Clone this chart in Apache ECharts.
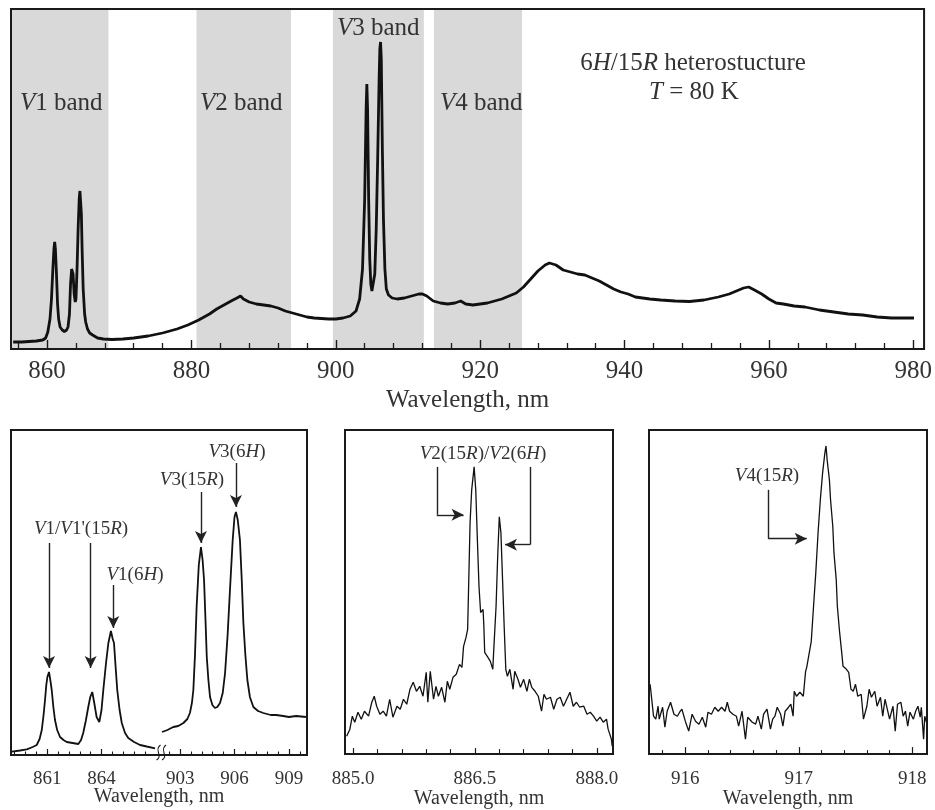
<!DOCTYPE html>
<html><head><meta charset="utf-8">
<script src="https://cdn.jsdelivr.net/npm/echarts@6/dist/echarts.min.js"></script>
<style>html,body{margin:0;padding:0;background:#fff}#c{width:935px;height:810px}</style>
</head><body><div id="c"></div>
<script>
const FONT = 'Liberation Serif';

// ---- Top panel: full spectrum ----
const topWl = [855.3,856.5,857.5,858.5,859.4,859.8,860.1,860.4,860.6,860.8,860.95,861.05,861.15,861.3,861.45,861.6,861.8,862.1,862.4,862.7,862.9,863.1,863.25,863.4,863.5,863.6,863.75,863.9,864.0,864.15,864.3,864.45,864.55,864.65,864.75,864.85,865.0,865.2,865.35,865.6,865.9,866.3,867.0,867.8,869,870.5,872,874,876,878,879.5,881,882.5,883.5,884.5,885.5,886.3,886.8,887.2,888,889,890,891,892,893,894,895,896,897,898,899,900,901,902,902.8,903.3,903.7,904.0,904.2,904.3,904.4,904.55,904.7,904.85,905.0,905.2,905.4,905.6,905.8,906.0,906.1,906.2,906.3,906.45,906.6,906.8,907.0,907.3,907.8,908.5,909.5,910.5,911.5,912,912.6,913.5,914.5,915.5,916.5,917.3,918,919,920,921,922,923,924,925,926,927,928,929,929.6,930.5,931.5,932.5,933.5,934.5,935.5,936.5,937.5,938.5,939.5,940.5,941.5,942.5,943.5,945,947,949,951,953,954.5,955.5,956.5,957.2,958,959,960,961,962,963.5,965,967,969,971,973,975,977,978.5,980.1];
const topInt = [7,7,7.5,8,9,11,17,30,49,80,100,107,100,75,45,30,22,19,17.5,19,22,35,65,80,82,75,55,47,50,80,120,150,158,157,135,100,60,35,27,20,16,14,11,10,9.5,10,11,13,16,20,24,29,35,40,44,48,51,53,50,47,45,44,43,41,38,36,34,32,31,30.5,30,30,31,33,38,50,80,150,240,265,240,150,90,65,58,57,75,120,190,270,300,307,290,200,130,80,60,54,51,50,51,53,55,55,53,48,46,45,46,48,45,44,45,46,48,50,53,56,62,70,78,84,86,84,79,77,75,74,71,68,64,60,57,55,52,51,50,49,48,47.5,49,52,55,58,61,62,59,55,50,46,45,43,42,39,37,35,34,32,31,31,31];
const bandRanges = [[855,868.5],[880.7,893.8],[899.6,912.2],[913.6,925.8]];
const topMajorTicks = [860,880,900,920,940,960,980];
const topMinorTicks = [856,864,868,872,876,884,888,892,896,904,908,912,916,924,928,932,936,944,948,952,956,964,968,972,976];

// ---- Bottom-left panel (broken axis) ----
const v1Wl = [859.04,859.5,859.87,860.2,860.42,860.58,860.70,860.80,860.88,860.95,861.01,861.10,861.18,861.25,861.34,861.43,861.55,861.71,861.9,862.08,862.4,862.72,862.87,862.99,863.13,863.27,863.38,863.49,863.6,863.73,863.88,864.0,864.10,864.25,864.38,864.52,864.62,864.69,864.78,864.87,865.0,865.12,865.3,865.48,865.8,866.13,866.5,866.96];
const v1Int = [3.3,4.5,5.7,8,10,16,25,40,55,70,78,83,74,65,48,35,25,18,15,13,12,11,15,22,34,48,58,63,52,38,33,45,65,92,112,124,116,112,88,65,45,32,22,17,13,10,8.5,6.7];
const v3Wl = [902.0,902.3,902.62,902.9,903.18,903.4,903.54,903.65,903.73,903.82,903.91,904.03,904.15,904.24,904.32,904.4,904.47,904.56,904.65,904.78,904.92,905.05,905.2,905.35,905.48,905.62,905.75,905.9,906.0,906.08,906.18,906.3,906.4,906.49,906.6,906.71,906.85,907.04,907.3,907.59,908.0,908.3,908.69,909.0,909.4,909.94];
const v3Int = [23,25,28,29,32,36,42,52,65,100,148,190,208,195,175,135,98,75,58,50,47,48,52,62,82,120,165,215,238,243,235,215,175,132,100,75,58,48,44,42,40,40,39,38,39,38];
const v1MajorTicks = [861,864];
const v1MinorTicks = [859.2,859.8,860.4,861.6,862.2,862.8,863.4,864.6,865.2,865.8,866.4];
const v3MajorTicks = [903,906,909];
const v3MinorTicks = [902.4,903.6,904.2,904.8,905.4,906.6,907.2,907.8,908.4,909.6];

// ---- Bottom-middle panel (V2) ----
const v2Wl = [884.92,884.96,884.99,885.02,885.06,885.10,885.14,885.19,885.23,885.26,885.29,885.33,885.37,885.41,885.45,885.49,885.54,885.58,885.62,885.66,885.70,885.74,885.78,885.82,885.86,885.90,885.92,885.95,885.99,886.02,886.05,886.09,886.13,886.16,886.19,886.23,886.27,886.31,886.34,886.36,886.39,886.41,886.42,886.44,886.46,886.49,886.51,886.53,886.55,886.57,886.60,886.61,886.62,886.66,886.69,886.72,886.73,886.76,886.78,886.80,886.82,886.84,886.86,886.88,886.90,886.93,886.97,886.99,887.03,887.06,887.10,887.14,887.17,887.20,887.24,887.28,887.32,887.35,887.38,887.43,887.47,887.51,887.55,887.59,887.63,887.67,887.71,887.75,887.79,887.84,887.88,887.92,887.96,888.00,888.04,888.08,888.12,888.14,888.18,888.19];
const v2Int = [18,25,38,32,42,35,43,38,52,58,48,40,43,38,55,37,48,45,55,50,65,72,63,68,58,82,52,83,55,68,58,67,52,73,65,77,80,90,87,108,117,125,160,232,265,288,265,215,168,142,145,128,102,97,93,85,102,148,198,238,222,175,128,85,78,85,65,83,75,67,75,63,75,67,63,58,43,60,55,57,45,55,57,48,55,62,48,52,47,48,40,42,38,33,37,32,35,25,15,8];
const v2MajorTicks = [885.0,886.5,888.0];
const v2MinorTicks = [885.3,885.6,885.9,886.2,886.8,887.1,887.4,887.7];

// ---- Bottom-right panel (V4) ----
const v4Wl = [915.69,915.72,915.74,915.76,915.77,915.80,915.82,915.84,915.87,915.90,915.93,915.95,915.97,916.00,916.03,916.06,916.09,916.12,916.15,916.18,916.20,916.23,916.26,916.29,916.32,916.35,916.37,916.39,916.42,916.45,916.47,916.50,916.53,916.55,916.59,916.62,916.64,916.67,916.69,916.72,916.75,916.77,916.79,916.81,916.84,916.86,916.88,916.91,916.93,916.95,916.96,916.98,917.01,917.04,917.06,917.07,917.09,917.11,917.13,917.15,917.17,917.19,917.21,917.23,917.24,917.25,917.27,917.28,917.30,917.31,917.33,917.34,917.36,917.38,917.39,917.42,917.44,917.46,917.48,917.50,917.52,917.55,917.57,917.60,917.62,917.64,917.67,917.69,917.72,917.74,917.76,917.78,917.80,917.83,917.85,917.87,917.90,917.92,917.94,917.96,917.98,918.01,918.03,918.05,918.07,918.08,918.10,918.11,918.13];
const v4Int = [70,38,35,48,35,47,27,43,52,40,38,42,45,33,23,40,33,30,37,27,42,40,47,43,47,43,52,43,40,38,28,43,15,37,32,30,38,25,40,45,25,35,38,47,40,28,43,47,50,38,63,58,62,58,83,87,100,113,148,182,222,255,282,302,309,295,275,255,228,202,175,148,122,100,88,85,82,65,63,70,58,60,35,48,65,57,63,48,57,38,55,45,35,48,23,50,52,38,43,28,42,35,43,48,37,47,15,38,30];
const v4MajorTicks = [916,917,918];
const v4MinorTicks = [915.8,916.2,916.4,916.6,916.8,917.2,917.4,917.6,917.8];

// ---- Arrows: [x1, y1, x2, y2, hasHead] in data units ----
const arrowsV1 = [[861.1,212,861.1,87,true],[863.4,212,863.4,87,true],[864.65,170,864.65,127,true]];
const arrowsV3 = [[904.15,263,904.15,212,true],[906.08,292,906.08,248,true]];
const arrowsV2 = [[886.03,288,886.03,240,false],[886.03,240,886.36,240,true],[887.18,288,887.18,210,false],[887.18,210,886.87,210,true]];
const arrowsV4 = [[916.73,265,916.73,216,false],[916.73,216,917.07,216,true]];

const INK = '#1a1a1a', TXT = '#333';
const pairs = (xs, ys) => xs.map((x, i) => [x, ys[i]]);

function majorAxis(grid, min, max, ticks, o) {
  return {
    type: 'value', gridIndex: grid, min, max, position: 'bottom', z: 10,
    axisLine: { show: false }, splitLine: { show: false },
    axisTick: { show: true, inside: true, length: o.tick, customValues: ticks, lineStyle: { color: INK, width: o.tw || 1.2 } },
    axisLabel: { show: true, customValues: ticks, margin: o.margin, fontFamily: FONT, fontSize: o.fs, color: TXT, formatter: o.fmt || (v => String(v)) },
    name: o.name || '', nameLocation: 'middle', nameGap: o.nameGap || 30,
    nameTextStyle: { fontFamily: FONT, fontSize: o.nfs || o.fs, color: TXT }
  };
}
function minorAxis(grid, min, max, ticks, len, tw) {
  return {
    type: 'value', gridIndex: grid, min, max, position: 'bottom', z: 10,
    axisLine: { show: false }, splitLine: { show: false }, axisLabel: { show: false },
    axisTick: { show: true, inside: true, length: len, customValues: ticks, lineStyle: { color: INK, width: tw || 1.1 } }
  };
}
function arrowLines(list) {
  return {
    silent: true, animation: false, symbolSize: [9, 12],
    lineStyle: { color: '#222', width: 1.4, type: 'solid' },
    label: { show: false }, emphasis: { disabled: true },
    data: list.map(a => [
      { coord: [a[0], a[1]], symbol: 'none' },
      { coord: [a[2], a[3]], symbol: a[4] ? 'arrow' : 'none' }
    ])
  };
}
function rtext(x, y, text, size, align) {
  const base = { fontFamily: FONT, fontSize: size, fill: TXT };
  return {
    type: 'text', x, y, z: 100, silent: true,
    style: Object.assign({}, base, {
      text, align: align || 'left', verticalAlign: 'middle',
      rich: { i: Object.assign({ fontStyle: 'italic' }, base), n: base }
    })
  };
}
function squiggle(x) {
  return { type: 'bezierCurve', z: 100, silent: true,
    shape: { x1: x - 2, y1: 760, cpx1: x + 5, cpy1: 756, cpx2: x - 5, cpy2: 750, x2: x + 2, y2: 745 },
    style: { stroke: INK, lineWidth: 1.1, fill: null } };
}

const border = { show: true, borderColor: INK, borderWidth: 2, backgroundColor: 'transparent', z: 10 };

const option = {
  animation: false,
  textStyle: { fontFamily: FONT },
  grid: [
    Object.assign({ left: 11, top: 9, width: 917, height: 340 }, border),
    Object.assign({ left: 11, top: 430, width: 296, height: 325 }, border),
    { left: 11, top: 430, width: 144.8, height: 325 },
    { left: 162, top: 430, width: 145, height: 325 },
    Object.assign({ left: 345, top: 430, width: 268, height: 325 }, border),
    Object.assign({ left: 649, top: 430, width: 278, height: 325 }, border)
  ],
  xAxis: [
    majorAxis(0, 855, 981.5, topMajorTicks, { tick: 9, margin: 10, fs: 25, name: 'Wavelength, nm', nameGap: 39, nfs: 25, tw: 1.4 }),
    minorAxis(0, 855, 981.5, topMinorTicks, 6, 1.3),
    { type: 'value', gridIndex: 1, min: 0, max: 1, position: 'bottom', axisLine: { show: false }, axisTick: { show: false }, axisLabel: { show: false }, splitLine: { show: false },
      name: 'Wavelength, nm', nameLocation: 'middle', nameGap: 32, nameTextStyle: { fontFamily: FONT, fontSize: 20, color: TXT } },
    majorAxis(2, 859, 867, v1MajorTicks, { tick: 6, margin: 15, fs: 19 }),
    minorAxis(2, 859, 867, v1MinorTicks, 3.5),
    majorAxis(3, 902, 910, v3MajorTicks, { tick: 6, margin: 15, fs: 19 }),
    minorAxis(3, 902, 910, v3MinorTicks, 3.5),
    majorAxis(4, 884.9, 888.2, v2MajorTicks, { tick: 6, margin: 15, fs: 19, fmt: v => v.toFixed(1), name: 'Wavelength, nm', nameGap: 32, nfs: 20 }),
    minorAxis(4, 884.9, 888.2, v2MinorTicks, 5),
    majorAxis(5, 915.68, 918.13, v4MajorTicks, { tick: 7, margin: 15, fs: 19, name: 'Wavelength, nm', nameGap: 32, nfs: 20 }),
    minorAxis(5, 915.68, 918.13, v4MinorTicks, 4)
  ],
  yAxis: [
    { type: 'value', gridIndex: 0, min: 0, max: 340, show: false },
    { type: 'value', gridIndex: 1, min: 0, max: 1, show: false },
    { type: 'value', gridIndex: 2, min: 0, max: 325, show: false },
    { type: 'value', gridIndex: 3, min: 0, max: 325, show: false },
    { type: 'value', gridIndex: 4, min: 0, max: 325, show: false },
    { type: 'value', gridIndex: 5, min: 0, max: 325, show: false }
  ],
  series: [
    { type: 'line', xAxisIndex: 0, yAxisIndex: 0, data: pairs(topWl, topInt), showSymbol: false, symbol: 'none',
      lineStyle: { color: '#111', width: 2.8 }, z: 3,
      markArea: { silent: true, itemStyle: { color: '#d9d9d9' }, data: bandRanges.map(b => [{ xAxis: b[0] }, { xAxis: b[1] }]) } },
    { type: 'line', xAxisIndex: 3, yAxisIndex: 2, data: pairs(v1Wl, v1Int), showSymbol: false, symbol: 'none',
      lineStyle: { color: '#111', width: 1.8 }, markLine: arrowLines(arrowsV1) },
    { type: 'line', xAxisIndex: 5, yAxisIndex: 3, data: pairs(v3Wl, v3Int), showSymbol: false, symbol: 'none',
      lineStyle: { color: '#111', width: 1.8 }, markLine: arrowLines(arrowsV3) },
    { type: 'line', xAxisIndex: 7, yAxisIndex: 4, data: pairs(v2Wl, v2Int), showSymbol: false, symbol: 'none',
      lineStyle: { color: '#111', width: 1.3 }, markLine: arrowLines(arrowsV2) },
    { type: 'line', xAxisIndex: 9, yAxisIndex: 5, data: pairs(v4Wl, v4Int), showSymbol: false, symbol: 'none',
      lineStyle: { color: '#111', width: 1.3 }, markLine: arrowLines(arrowsV4) }
  ],
  graphic: [
    rtext(20, 103, '{i|V}1 band', 25),
    rtext(200, 103, '{i|V}2 band', 25),
    rtext(337, 28, '{i|V}3 band', 25),
    rtext(440, 103, '{i|V}4 band', 25),
    rtext(693, 63, '6{i|H}/15{i|R} heterostucture', 25, 'center'),
    rtext(694, 92, '{i|T} = 80 K', 25, 'center'),
    rtext(81, 529, "{i|V}1/{i|V}1'(15{i|R})", 19, 'center'),
    rtext(135, 575, '{i|V}1(6{i|H})', 19, 'center'),
    rtext(192, 480, '{i|V}3(15{i|R})', 19, 'center'),
    rtext(237, 452, '{i|V}3(6{i|H})', 19, 'center'),
    rtext(483, 454, '{i|V}2(15{i|R})/{i|V}2(6{i|H})', 19, 'center'),
    rtext(767, 476, '{i|V}4(15{i|R})', 19, 'center'),
    squiggle(158.5),
    squiggle(164)
  ]
};

const chart = echarts.init(document.getElementById('c'), null, { renderer: 'canvas' });
chart.setOption(option);
</script>
</body></html>
